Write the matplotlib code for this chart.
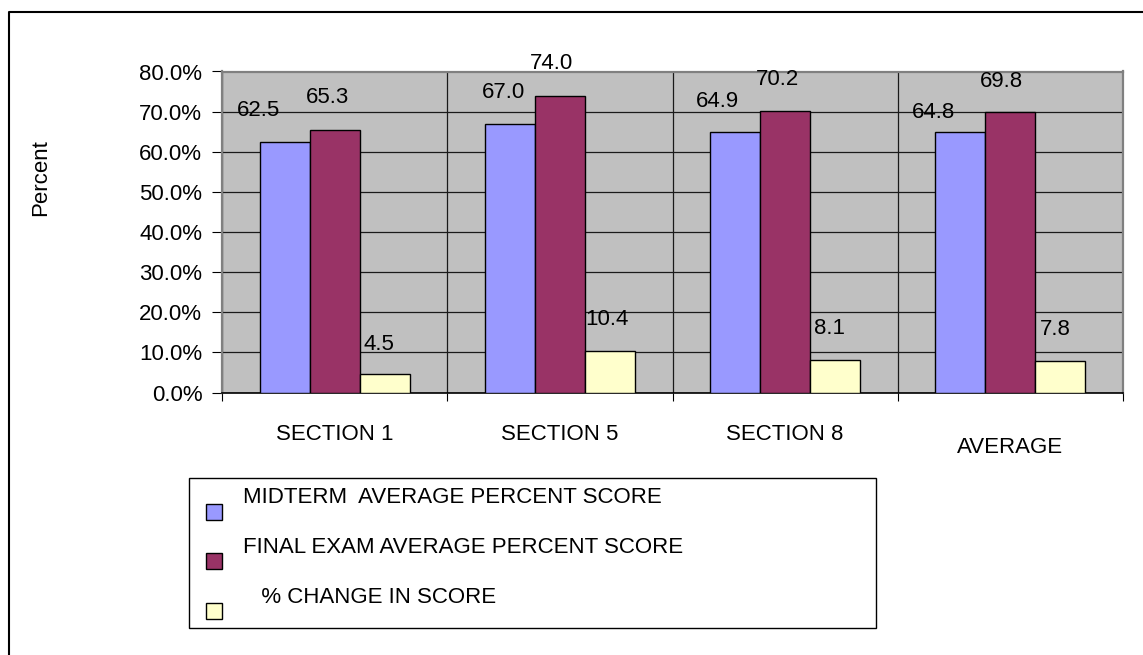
import numpy as np
import matplotlib
matplotlib.use("Agg")
import matplotlib.pyplot as plt
from matplotlib.patches import Rectangle
from matplotlib.lines import Line2D
from matplotlib.legend_handler import HandlerPatch
from matplotlib.ticker import PercentFormatter

# ---------------- data ----------------
categories = ["SECTION 1", "SECTION 5", "SECTION 8", "AVERAGE"]
series_names = ["MIDTERM  AVERAGE PERCENT SCORE",
                "FINAL EXAM AVERAGE PERCENT SCORE",
                "   % CHANGE IN SCORE"]
midterm = [62.5, 67.0, 64.9, 64.8]
final_exam = [65.3, 74.0, 70.2, 69.8]
pct_change = [4.5, 10.4, 8.1, 7.8]
y_ticks = [0, 10, 20, 30, 40, 50, 60, 70, 80]

# ---------------- style ----------------
colors = ["#9999FF", "#993366", "#FFFFCC"]
# manual label nudges (pixels) relative to bar's left edge / top, as in the original
label_nudges = [
    [(-23, 26), (-3, 26), (-14, 25), (-23, 14)],
    [(-4, 27), (-5, 27), (-4, 26), (-5, 25)],
    [(4, 24), (0, 26), (4, 26), (4, 26)],
]

plt.rcParams['font.family'] = ['Liberation Sans', 'DejaVu Sans']
FS = 16

W, H = 1143, 655
fig = plt.figure(figsize=(W / 100, H / 100), dpi=100)
fig.patch.set_facecolor("white")

ax = fig.add_axes([222 / W, 1 - 392.5 / H, (1123 - 222) / W, (392.5 - 71.5) / H])
ax.set_facecolor("#C0C0C0")

x = np.arange(len(categories))
bw = 0.222
all_series = [midterm, final_exam, pct_change]
offsets = [-bw, 0.0, bw]
containers = []
for vals, off, col, name in zip(all_series, offsets, colors, series_names):
    bc = ax.bar(x + off, vals, width=bw, color=col, edgecolor="black",
                linewidth=1.0, label=name, zorder=3)
    containers.append(bc)

# data labels
for si, (bc, vals) in enumerate(zip(containers, all_series)):
    for ci, (rect, v) in enumerate(zip(bc.patches, vals)):
        dx, dy = label_nudges[si][ci]
        ax.annotate(f"{v:.1f}", xy=(rect.get_x(), rect.get_height()),
                    xytext=(dx, dy), textcoords="offset pixels",
                    ha="left", va="baseline", fontsize=FS, color="black",
                    zorder=5, annotation_clip=False)

ax.set_xlim(-0.5, len(categories) - 0.5)
ax.set_ylim(0, 80)
ax.set_yticks(y_ticks)
ax.yaxis.set_major_formatter(PercentFormatter(xmax=100, decimals=1))
ax.tick_params(axis="y", direction="out", length=7.2, width=0.8, pad=7,
               labelsize=FS, color="black")

# category boundaries = major ticks (no labels); category centers = minor ticks (labels)
ax.set_xticks(np.arange(len(categories) + 1) - 0.5)
ax.set_xticklabels([])
ax.set_xticks(x, categories, minor=True)
ax.tick_params(axis="x", which="major", direction="out", length=6, width=0.8,
               color="black")
ax.tick_params(axis="x", which="minor", length=0, pad=23, labelsize=FS)
ax.xaxis.get_minor_ticks()[3].set_pad(32)

ax.grid(True, axis="y", which="major", color="#1a1a1a", linewidth=0.9, zorder=1)
ax.grid(True, axis="x", which="major", color="#1a1a1a", linewidth=0.9, zorder=1)
ax.set_axisbelow(True)

for side in ["top", "right", "left"]:
    ax.spines[side].set_color("#808080")
    ax.spines[side].set_linewidth(1.6)
ax.spines["bottom"].set_color("black")
ax.spines["bottom"].set_linewidth(1.2)

# y axis title
fig.text(41 / W, 1 - 178 / H, "Percent", rotation=90, ha="center", va="center",
         fontsize=FS)

# legend with square markers placed slightly below the text line
def make_square(legend, orig_handle, xdescent, ydescent, width, height, fontsize):
    s = 11.5
    return Rectangle((width - s - xdescent, -ydescent - 12.0), s, s)

handles = [bc.patches[0] for bc in containers]
leg = fig.legend(handles, series_names, loc="upper left",
                 bbox_to_anchor=(189 / W, 0, (876 - 189) / W, 1 - 478 / H),
                 bbox_transform=fig.transFigure, mode="expand", borderaxespad=0,
                 fontsize=FS, frameon=False,
                 handlelength=1.1, handleheight=0.7, handletextpad=0.95,
                 labelspacing=1.3, borderpad=0.4,
                 handler_map={Rectangle: HandlerPatch(patch_func=make_square)})

# legend frame (original has extra room below the last entry)
fig.add_artist(Rectangle((189 / W, 1 - 628 / H), (876 - 189) / W, (628 - 478) / H,
                         transform=fig.transFigure, facecolor="none",
                         edgecolor="black", linewidth=1.0, zorder=0))

# outer chart border (extends past right and bottom edges of the image)
fig.add_artist(Line2D([8.5 / W, 8.5 / W, 1.0], [0.0, 1 - 11.5 / H, 1 - 11.5 / H],
                      transform=fig.transFigure, color="black", linewidth=1.5))

fig.savefig("out.png", dpi=100)
